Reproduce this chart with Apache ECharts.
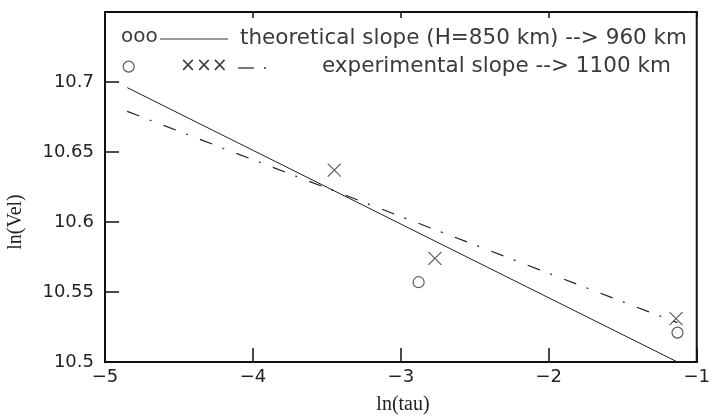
<!DOCTYPE html>
<html><head><meta charset="utf-8">
<script src="https://cdn.jsdelivr.net/npm/echarts@6/dist/echarts.min.js"></script>
<style>html,body{margin:0;padding:0;background:#fff}#c{width:713px;height:419px}</style>
</head><body><div id="c"></div>
<script>
// data
var circleX = [-4.84, -2.88, -1.13];
var circleY = [10.711, 10.557, 10.521];
var crossX = [-3.45, -2.77, -1.14];
var crossY = [10.637, 10.574, 10.531];
var theoryX = [-4.85, -1.13];
var theoryY = [10.696, 10.50];
var experX = [-4.85, -1.13];
var experY = [10.679, 10.528];
var xTicks = [-5, -4, -3, -2, -1];
var yTicks = [10.5, 10.55, 10.6, 10.65, 10.7];
var legendMarks1 = 'ooo';
var legendRow1 = 'theoretical slope (H=850 km) --> 960 km';
var legendMarks2 = '×××';
var legendRow2 = 'experimental slope --> 1100 km';
var xTitle = 'ln(tau)';
var yTitle = 'ln(Vel)';

function pairs(xs, ys){ return xs.map(function(x,i){return [x, ys[i]];}); }
var chart = echarts.init(document.getElementById('c'), null, {renderer:'canvas'});
var tickFont = {fontFamily:'DejaVu Sans', fontSize:18, color:'#222'};
var legFont = '21.5px "DejaVu Sans"';
var legColor = '#3a3a3a';
chart.setOption({
  animation:false,
  grid:{left:105, right:12, top:12, bottom:57, show:true, borderColor:'#111', borderWidth:2, backgroundColor:'#fff'},
  xAxis:[{
    type:'value', min:-5, max:-1, interval:1, position:'bottom',
    axisLine:{show:true, onZero:false, lineStyle:{color:'#111', width:2}},
    axisTick:{show:true, inside:true, length:14, lineStyle:{color:'#111', width:1.5}},
    axisLabel:Object.assign({margin:6, formatter:function(v){return String(v).replace('-', '−');}}, tickFont),
    splitLine:{show:false}
  },{
    type:'value', min:-5, max:-1, interval:1, position:'top',
    axisLine:{show:true, onZero:false, lineStyle:{color:'#111', width:2}},
    axisTick:{show:true, inside:true, length:6, lineStyle:{color:'#111', width:1.5}},
    axisLabel:{show:false}, splitLine:{show:false}
  }],
  yAxis:[{
    type:'value', min:10.5, max:10.75, interval:0.05,
    axisLine:{show:true, onZero:false, lineStyle:{color:'#111', width:2}},
    axisTick:{show:true, inside:true, length:14, lineStyle:{color:'#111', width:1.5}},
    axisLabel:Object.assign({margin:11, formatter:function(v){
      for (var i=0;i<yTicks.length;i++){ if (Math.abs(v-yTicks[i])<1e-9) return String(yTicks[i]); }
      return '';
    }}, tickFont),
    splitLine:{show:false}
  }],
  series:[
    {type:'line', data:pairs(theoryX, theoryY), symbol:'none', lineStyle:{color:'#222', width:1}},
    {type:'line', data:pairs(experX, experY), symbol:'none', lineStyle:{color:'#222', width:1.2, type:[13,11,2,13]}},
    {type:'scatter', data:pairs(circleX, circleY), symbol:'circle', symbolSize:11,
      itemStyle:{color:'#fff', borderColor:'#333', borderWidth:1.2}},
    {type:'scatter', data:pairs(crossX, crossY), symbol:'path://M0,0L10,10M10,0L0,10', symbolSize:13,
      itemStyle:{color:'none', borderColor:'#333', borderWidth:1.2}}
  ],
  graphic:[
    {type:'text', left:121, top:27, style:{text:legendMarks1, font:'20px "DejaVu Sans"', fill:legColor}},
    {type:'line', shape:{x1:160, y1:39, x2:228, y2:39}, style:{stroke:'#333', lineWidth:1.2}},
    {type:'text', left:240, top:27, style:{text:legendRow1, font:legFont, fill:legColor}},
    {type:'text', left:180, top:57, style:{text:legendMarks2, font:'19px "DejaVu Sans"', fill:legColor}},
    {type:'line', shape:{x1:238, y1:68, x2:254, y2:68}, style:{stroke:'#333', lineWidth:1.3}},
    {type:'line', shape:{x1:264, y1:68, x2:266, y2:68}, style:{stroke:'#333', lineWidth:1.3}},
    {type:'text', left:322, top:55, style:{text:legendRow2, font:legFont, fill:legColor}},
    {type:'text', x:403, y:405, style:{text:xTitle, font:'20px "Liberation Serif"', fill:'#222', align:'center', verticalAlign:'middle'}},
    {type:'text', x:16, y:222, rotation:Math.PI/2, style:{text:yTitle, font:'20px "Liberation Serif"', fill:'#222', align:'center', verticalAlign:'middle'}}
  ]
});
</script></body></html>
